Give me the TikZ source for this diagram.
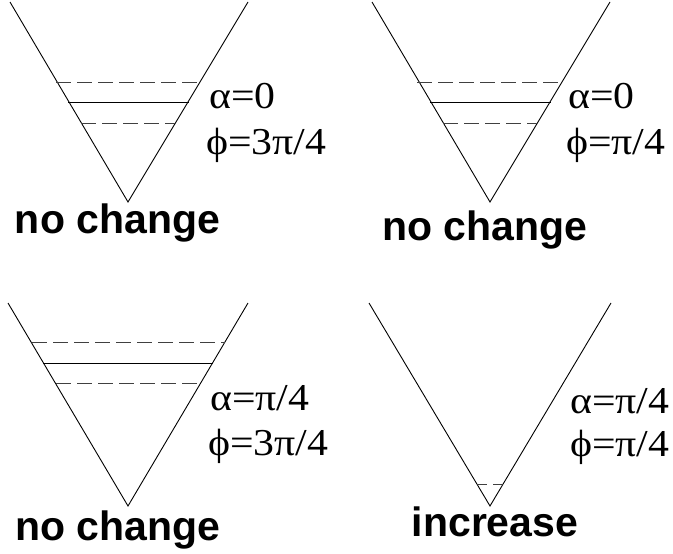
\documentclass[tikz,border=0pt]{standalone}
\usepackage{fontspec}
\setmainfont{Liberation Serif}
\newfontfamily\labfont{Liberation Sans}
\newcommand{\wideparam}[1]{\scalebox{1.1}[1]{#1}}
\tikzset{
  vline/.style={line width=0.9pt},
  lvl/.style={line width=0.9pt},
  dlvl/.style={line width=0.9pt, dash pattern=on 15pt off 6pt, black!75},
  param/.style={anchor=base west, inner sep=0pt, font=\fontsize{38}{44}\selectfont},
  verdict/.style={anchor=base, inner sep=0pt, font=\labfont\bfseries\fontsize{41}{48}\selectfont}
}
\begin{document}
\begin{tikzpicture}[x=1pt,y=-1pt]
\useasboundingbox (0,0) rectangle (673,554);
% panel 1
\coordinate (a1) at (10,2); \coordinate (v1) at (128,202); \coordinate (b1) at (248,2);
\draw[vline] (a1) -- (v1) -- (b1);
\draw[dlvl] (56,82) -- (200,82);
\draw[lvl] (68,102) -- (189,102);
\draw[dlvl] (81,123) -- (176,123);
\node[param] (p1a) at (209,108) {\wideparam{α=0}};
\node[param] (p1b) at (206,154) {\wideparam{ϕ=3π/4}};
\node[verdict] (t1) at (117.5,233) {no change};
% panel 2
\coordinate (a2) at (372,2); \coordinate (v2) at (490,202); \coordinate (b2) at (610,2);
\draw[vline] (a2) -- (v2) -- (b2);
\draw[dlvl] (417,82) -- (563,82);
\draw[lvl] (430,102) -- (551,102);
\draw[dlvl] (443,123) -- (537,123);
\node[param] (p2a) at (568,108) {\wideparam{α=0}};
\node[param] (p2b) at (566,154) {\wideparam{ϕ=π/4}};
\node[verdict] (t2) at (485,240) {no change};
% panel 3
\coordinate (a3) at (8,303); \coordinate (v3) at (128,506); \coordinate (b3) at (248,303);
\draw[vline] (a3) -- (v3) -- (b3);
\draw[dlvl] (32,342) -- (225,342);
\draw[lvl] (43,363) -- (213,363);
\draw[dlvl] (56,383) -- (202,383);
\node[param] (p3a) at (210,410) {\wideparam{α=π/4}};
\node[param] (p3b) at (208,455) {\wideparam{ϕ=3π/4}};
\node[verdict] (t3) at (118,540) {no change};
% panel 4
\coordinate (a4) at (369,303); \coordinate (v4) at (490,506); \coordinate (b4) at (611,303);
\draw[vline] (a4) -- (v4) -- (b4);
\draw[line width=0.9pt, dash pattern=on 9pt off 6pt, black!75] (478,484) -- (503,484);
\node[param] (p4a) at (570,413) {\wideparam{α=π/4}};
\node[param] (p4b) at (570,456) {\wideparam{ϕ=π/4}};
\node[verdict] (t4) at (495,536) {increase};
\end{tikzpicture}
\end{document}
